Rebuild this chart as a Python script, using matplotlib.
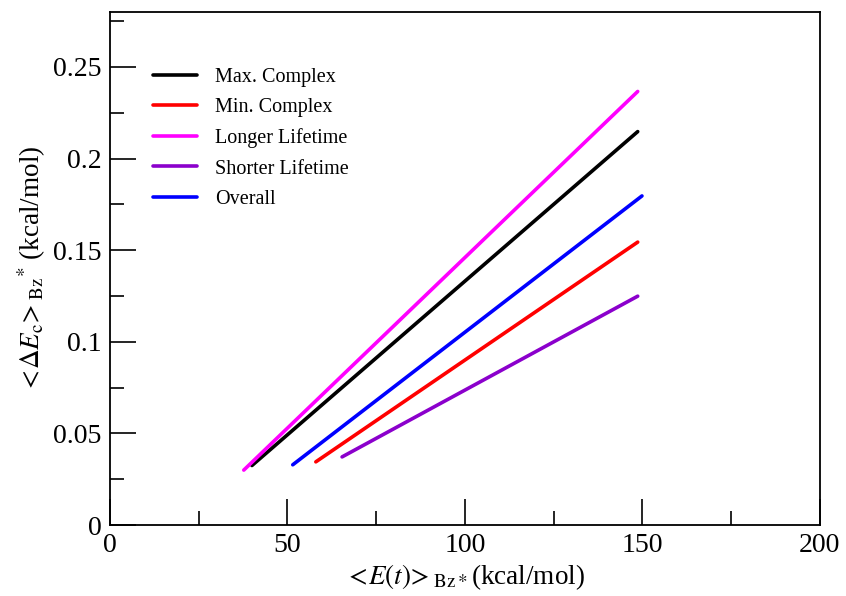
import numpy as np
import matplotlib
matplotlib.use('Agg')
import matplotlib.pyplot as plt
from matplotlib.ticker import MultipleLocator, FuncFormatter

plt.rcParams['font.family'] = ['Liberation Serif', 'DejaVu Serif']
plt.rcParams['mathtext.fontset'] = 'stix'

# series: (start, end) in data units
labels = ['Max. Complex', 'Min. Complex', 'Longer Lifetime', 'Shorter Lifetime', 'Overall']
colors = ['black', 'red', 'magenta', '#8b00cc', 'blue']
x_max = [40.0, 148.7]
y_max = [0.0325, 0.2147]
x_min = [58.0, 148.7]
y_min = [0.0345, 0.1544]
x_long = [37.7, 148.7]
y_long = [0.0300, 0.2366]
x_short = [65.4, 148.7]
y_short = [0.0372, 0.1249]
x_all = [51.5, 149.9]
y_all = [0.0329, 0.1796]

xs = [x_max, x_min, x_long, x_short, x_all]
ys = [y_max, y_min, y_long, y_short, y_all]

fig = plt.figure(figsize=(8.46, 5.96), dpi=100)
ax = fig.add_axes([0.130, 0.119, 0.839, 0.861])

for x, y, c, lab in zip(xs, ys, colors, labels):
    ax.plot(x, y, color=c, lw=2.6, label=lab, solid_capstyle='round')

ax.set_xlim(0, 200)
ax.set_ylim(0, 0.28)
ax.xaxis.set_major_locator(MultipleLocator(50))
ax.xaxis.set_minor_locator(MultipleLocator(25))
ax.yaxis.set_major_locator(MultipleLocator(0.05))
ax.yaxis.set_minor_locator(MultipleLocator(0.025))
ax.yaxis.set_major_formatter(FuncFormatter(lambda v, p: '0' if abs(v) < 1e-9 else ('%.2f' % v).rstrip('0')))
ax.tick_params(which='major', direction='in', length=19, width=1.2, labelsize=20)
ax.tick_params(axis='y', which='major', pad=6)
ax.tick_params(axis='x', which='major', pad=6)
ax.tick_params(which='minor', direction='in', length=10, width=1.2)
ax.tick_params(top=False, right=False)
for s in ax.spines.values():
    s.set_linewidth(1.3)

ax.set_xlabel(r'$<\!E(t)\!>_{\rm Bz*}$(kcal/mol)', fontsize=19.5, labelpad=3)
ax.set_ylabel(r'$<\!\Delta E_{\rm c}\!>_{\rm Bz}{}^{*}$ (kcal/mol)', fontsize=19.5, labelpad=4)

leg = ax.legend(loc='upper left', bbox_to_anchor=(0.035, 0.927), frameon=False,
                fontsize=14.5, handlelength=2.2, handletextpad=0.9, labelspacing=0.56)

fig.savefig('out.png', dpi=100)
